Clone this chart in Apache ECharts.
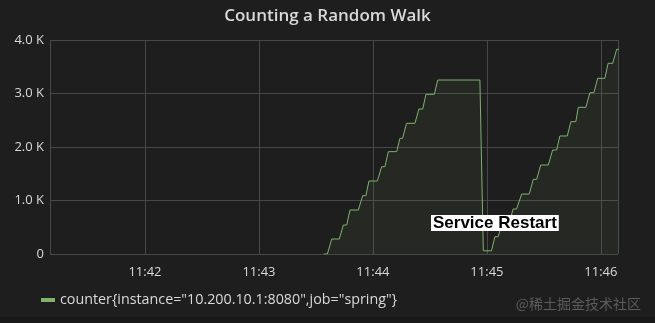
<!DOCTYPE html>
<html>
<head>
<meta charset="utf-8">
<script src="https://cdn.jsdelivr.net/npm/echarts@6/dist/echarts.min.js"></script>
<style>
html,body{margin:0;padding:0;background:#1f1e1e;}
#chart{width:655px;height:323px;}
</style>
</head>
<body>
<div id="chart"></div>
<script>
// Seconds after 11:42:00 for each sample, and the counter value at that time
const timeSeconds = [94, 96, 98.3, 102.3, 104.4, 106.2, 107.9, 112.3, 114.6, 116.3, 117.9, 122.3, 124.6, 126.3, 128.1, 132.5, 134.2, 135.6, 137.7, 142.1, 144.2, 146.2, 147.9, 152.3, 154.1, 176.3, 178.1, 182.4, 184.2, 185.9, 188.2, 191.8, 193.8, 195.6, 198.3, 202.3, 204.4, 206.2, 208.3, 212.3, 214.6, 216.7, 218.4, 222.3, 224.2, 226.8, 228.1, 232.1, 234.2, 236.3, 238.3, 242.1, 243.8, 246.2, 248.3, 249.5];
const counterValues = [0, 0, 280, 280, 542, 542, 822, 822, 1090, 1090, 1364, 1364, 1632, 1632, 1913, 1913, 2162, 2162, 2443, 2443, 2710, 2710, 2985, 2985, 3252, 3252, 60, 60, 323, 323, 592, 592, 841, 841, 1121, 1121, 1396, 1396, 1664, 1664, 1944, 1944, 2206, 2206, 2473, 2473, 2742, 2742, 3015, 3015, 3284, 3284, 3564, 3564, 3826, 3826];
const seriesName = 'counter{instance="10.200.10.1:8080",job="spring"}';
const yTicks = [0, 1000, 2000, 3000, 4000];
const axisStartSec = -50, axisEndSec = 249;
const annotationText = 'Service Restart';
const annotationSec = 184.2, annotationValue = 579;

const base = new Date(2024, 0, 1, 11, 42, 0).getTime();
const data = timeSeconds.map((s, i) => [base + s * 1000, counterValues[i]]);

const chart = echarts.init(document.getElementById('chart'), null, {renderer: 'canvas'});
const font = '"Open Sans", "DejaVu Sans", sans-serif';
chart.setOption({
  backgroundColor: '#1f1e1e',
  animation: false,
  title: {
    text: 'Counting a Random Walk',
    left: 'center', top: 3,
    textStyle: {color: '#d8d9da', fontSize: 17, fontWeight: 600, fontFamily: font}
  },
  grid: {left: 50, right: 37, top: 40, bottom: 69, containLabel: false},
  legend: {
    left: 36, top: 288,
    icon: 'rect', itemWidth: 14, itemHeight: 4, itemGap: 6,
    textStyle: {color: '#d8d9da', fontSize: 14.3, fontFamily: font},
    data: [seriesName]
  },
  xAxis: {
    type: 'time',
    min: base + axisStartSec * 1000,
    max: base + axisEndSec * 1000,
    minInterval: 60000, maxInterval: 60000,
    axisLine: {show: false},
    axisTick: {show: false},
    splitLine: {show: true, lineStyle: {color: '#484848', width: 1}},
    axisLabel: {
      color: '#d8d9da', fontSize: 13, fontFamily: font, margin: 12,
      showMinLabel: false, showMaxLabel: false,
      formatter: function (v) {
        const d = new Date(v);
        return d.getHours() + ':' + String(d.getMinutes()).padStart(2, '0');
      }
    }
  },
  yAxis: {
    type: 'value',
    min: yTicks[0], max: yTicks[yTicks.length - 1], interval: 1000,
    axisLine: {show: false},
    axisTick: {show: false},
    splitLine: {show: true, lineStyle: {color: '#484848', width: 1}},
    axisLabel: {
      color: '#d8d9da', fontSize: 13, fontFamily: font, margin: 6,
      formatter: function (v) { return v === 0 ? '0' : (v / 1000).toFixed(1) + ' K'; }
    }
  },
  series: [{
    name: seriesName,
    type: 'line',
    data: data,
    showSymbol: false,
    symbol: 'none',
    lineStyle: {color: '#7eb26d', width: 1},
    itemStyle: {color: '#7eb26d'},
    areaStyle: {color: 'rgba(126,178,109,0.1)'},
    markPoint: {
      symbol: 'rect', symbolSize: 1,
      itemStyle: {color: 'rgba(0,0,0,0)'},
      label: {
        show: true, position: 'inside',
        formatter: annotationText,
        color: '#000', backgroundColor: '#fff',
        fontFamily: '"Liberation Sans", Arial, sans-serif',
        fontSize: 17, fontWeight: 'bold', lineHeight: 16, padding: [0, 2]
      },
      data: [{coord: [base + annotationSec * 1000, annotationValue]}]
    }
  }],
  graphic: [
    {type: 'text', right: 14, top: 297,
     style: {text: '@稀土掘金技术社区', fill: '#5c5c5c', fontSize: 14, fontFamily: '"Noto Sans CJK SC", sans-serif'}},
    {type: 'rect', left: 0, top: 317, shape: {width: 655, height: 6}, style: {fill: '#181818'}}
  ]
});
</script>
</body>
</html>
